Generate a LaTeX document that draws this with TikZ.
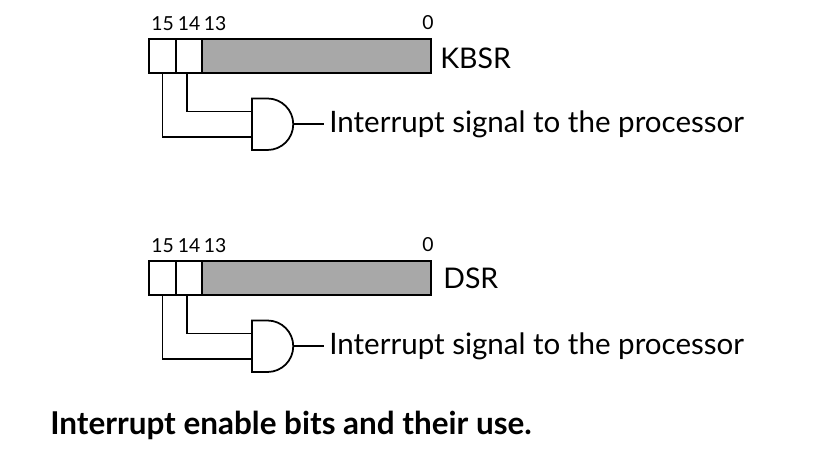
\documentclass[tikz,border=0pt]{standalone}
\usepackage{fontspec}
\setmainfont{Lato}
\tikzset{
  bitcell/.style={draw,line width=1.1pt,minimum height=0.68cm,inner sep=0pt,outer sep=0pt},
  bitnum/.style={inner sep=0pt,font=\fontsize{11}{13}\selectfont},
  regname/.style={anchor=west,inner sep=0pt,font=\fontsize{16.2}{19}\selectfont},
  sigtext/.style={anchor=west,inner sep=0pt,font=\fontsize{16.8}{20}\selectfont},
  wire/.style={line width=1pt}
}
\definecolor{unused}{gray}{0.66}
\begin{document}
\begin{tikzpicture}
\useasboundingbox (0,0) rectangle (16.32,9.28);

\begin{scope}
\node[bitcell,minimum width=0.54cm] (k15) at (3.25,8.16) {};
\node[bitcell,minimum width=0.52cm] (k14) at (3.78,8.16) {};
\node[bitcell,fill=unused,minimum width=4.58cm] (k13) at (6.33,8.16) {};
\node[bitnum] at (3.25,8.80) (kn15) {15};
\node[bitnum] at (3.78,8.80) (kn14) {14};
\node[bitnum] at (4.30,8.80) (kn13) {13};
\node[bitnum] at (8.56,8.83) (kn0) {0};
\node[regname] at (8.80,8.11) (kname) {KBSR};
\coordinate (kin1) at (5.04,7.05);
\coordinate (kin2) at (5.04,6.54);
\coordinate (kout) at (5.865,6.795);
\draw[wire] (5.04,7.31) -- (5.35,7.31) arc (90:-90:0.515) -- (5.04,6.28) -- cycle;
\draw[wire] ([xshift=-0.04cm]k14.south) |- (kin1);
\draw[wire] (k15.south) |- (kin2);
\node[sigtext] at (6.58,6.79) (ksig) {Interrupt signal to the processor};
\draw[wire,shorten >=0.1cm] (kout) -- (kout -| ksig.west);
\end{scope}

\begin{scope}[yshift=-4.44cm]
\node[bitcell,minimum width=0.54cm] (d15) at (3.25,8.16) {};
\node[bitcell,minimum width=0.52cm] (d14) at (3.78,8.16) {};
\node[bitcell,fill=unused,minimum width=4.58cm] (d13) at (6.33,8.16) {};
\node[bitnum] at (3.25,8.80) (dn15) {15};
\node[bitnum] at (3.78,8.80) (dn14) {14};
\node[bitnum] at (4.30,8.80) (dn13) {13};
\node[bitnum] at (8.56,8.83) (dn0) {0};
\node[regname] at (8.86,8.15) (dname) {DSR};
\coordinate (din1) at (5.04,7.05);
\coordinate (din2) at (5.04,6.54);
\coordinate (dout) at (5.865,6.795);
\draw[wire] (5.04,7.31) -- (5.35,7.31) arc (90:-90:0.515) -- (5.04,6.28) -- cycle;
\draw[wire] ([xshift=-0.04cm]d14.south) |- (din1);
\draw[wire] (d15.south) |- (din2);
\node[sigtext] at (6.58,6.79) (dsig) {Interrupt signal to the processor};
\draw[wire,shorten >=0.1cm] (dout) -- (dout -| dsig.west);
\end{scope}

\node[anchor=west,inner sep=0pt,font=\fontsize{17.9}{21}\selectfont\bfseries] at (1.0,0.77) (caption) {Interrupt enable bits and their use.};
\end{tikzpicture}
\end{document}
